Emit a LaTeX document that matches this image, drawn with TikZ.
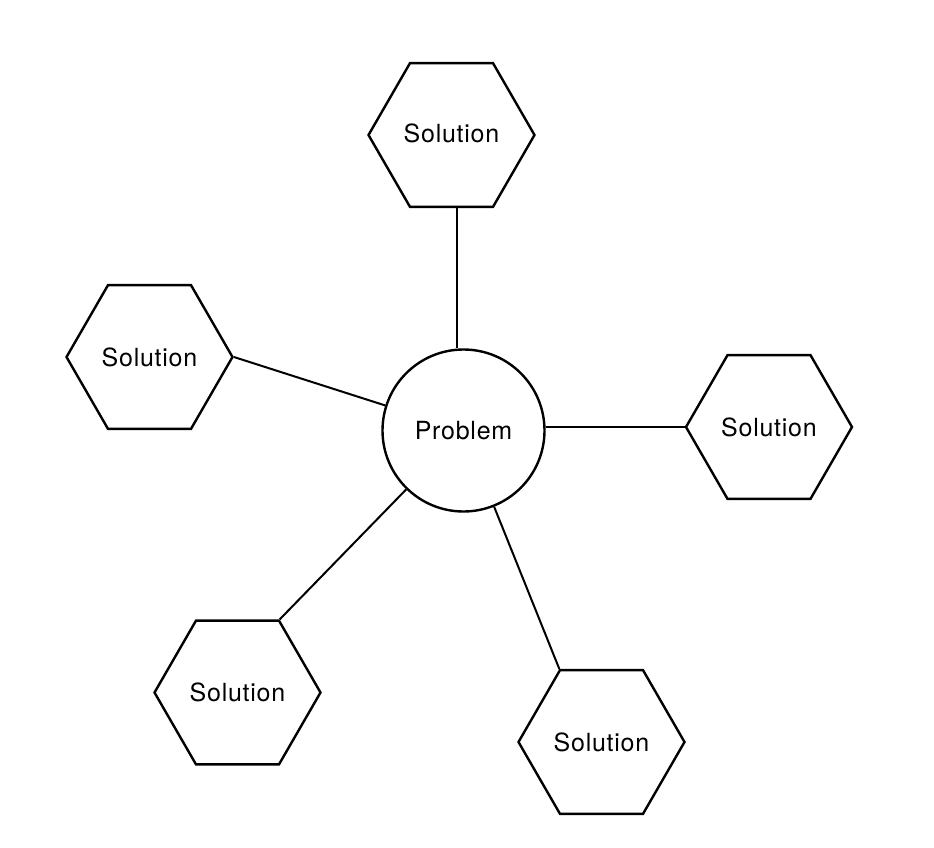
\documentclass[tikz,border=0pt]{standalone}
\usepackage{fontspec}
\setmainfont[LetterSpace=3]{TeX Gyre Heros}
\usetikzlibrary{shapes.geometric}
\begin{document}
\begin{tikzpicture}[x=1pt,y=-1pt,
  hexa/.style={draw, line width=2.4pt, regular polygon, regular polygon sides=6,
    minimum size=166pt, inner sep=0pt, font=\fontsize{25}{30}\selectfont},
  probc/.style={draw, circle, line width=2.4pt, minimum size=162pt, inner sep=0pt,
    font=\fontsize{25}{30}\selectfont},
  link/.style={line width=2pt}]
\useasboundingbox (0,0) rectangle (934,848);
\node[probc] (P) at (463.5,430.5) {Problem};
\node[hexa] (T) at (451.5,135) {\raisebox{4pt}{Solution}};
\node[hexa] (L) at (149.5,357) {Solution};
\node[hexa] (R) at (769,427) {Solution};
\node[hexa] (BL) at (237.5,692.5) {Solution};
\node[hexa] (BR) at (601.5,742) {Solution};
\coordinate (tb) at ([xshift=5.5pt]T.south);
\coordinate (tp) at (tb |- P.north);
\draw[link] (tb) -- (tp);
\draw[link] (L.0) -- (P);
\coordinate (rp) at (R.180 -| P.east);
\draw[link] (rp) -- (R.180);
\draw[link] (BL.60) -- (P);
\draw[link] (BR.120) -- (P);
\end{tikzpicture}
\end{document}
